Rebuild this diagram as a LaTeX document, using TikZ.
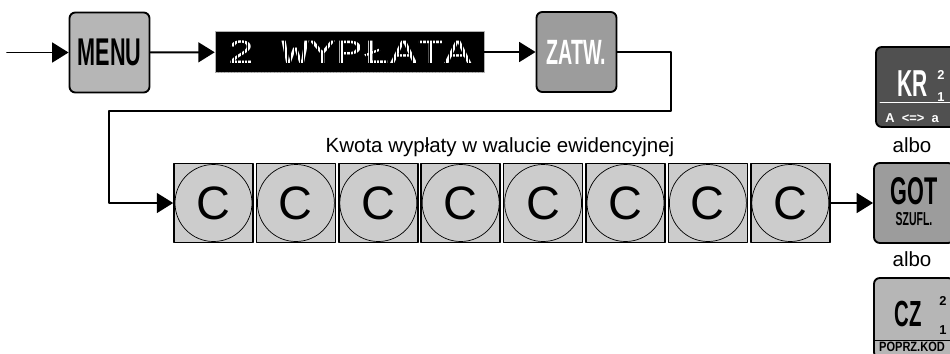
\documentclass[tikz,border=0pt]{standalone}
\usepackage{fontspec}
\setmainfont{Liberation Sans}
\newfontfamily\keyfont[FakeStretch=0.56]{Liberation Sans}
\newfontfamily\keyfontw[FakeStretch=0.82]{Liberation Sans}
\newfontfamily\lcdfont[FakeStretch=1.33]{Liberation Mono}
\usetikzlibrary{arrows.meta}
\definecolor{keylight}{HTML}{B6B6B6}
\definecolor{keymid}{HTML}{9C9C9C}
\definecolor{keydark}{HTML}{505050}
\definecolor{cellgray}{HTML}{CCCCCC}

\begin{document}
\begin{tikzpicture}[x=0.03cm, y=-0.03cm, >={Triangle[length=14pt,width=17pt]},
	line width=1.6pt, line cap=round, line join=round,
	key/.style={draw, rounded corners=5pt, minimum size=2.4cm, inner sep=0pt},
	keylabel/.style={font=\keyfont\bfseries, inner sep=0pt},
	cell/.style={draw, fill=cellgray, line width=1.4pt, minimum size=2.37cm, inner sep=0pt, font=\fontsize{40}{40}\selectfont},
	lcd/.style={fill=black, draw=gray!60, line width=0.5pt, minimum width=8.07cm, minimum height=1.23cm,
		text=white, font=\lcdfont\fontsize{29}{29}\selectfont},
	note/.style={font=\fontsize{17.5}{20}\selectfont, inner sep=0pt, anchor=base}]
	
	\useasboundingbox (0,0) rectangle (950,353);
	
	% Górny rząd
	\coordinate (start) at (7,52.5);
	\node[key, fill=keylight, keylabel, font=\keyfont\bfseries\fontsize{33}{33}\selectfont] (menu) at (109.5,52.5) {MENU};
	\node[lcd] (disp) at (349.5,52) {2 WYPŁATA};
	\node[key, fill=keymid, keylabel, text=white, font=\keyfont\bfseries\fontsize{30}{30}\selectfont] (zatw) at (576.5,52) {ZATW.};
	
	% Siatka punktów wyświetlacza
	\begin{scope}
		\clip (215,32) rectangle (484,72);
		\draw[black, line width=0.3pt, step=3.3] (215,32) grid (484,72);
	\end{scope}
	
	% Strzałki górnego rzędu
	\draw[->] (start) -- (menu);
	\draw[->] (menu) -- (disp);
	\draw[->] (disp) -- (zatw);
	
	% Kwota
	\foreach \i in {1,...,8} {
		\node[cell] (c\i) at ({213.5+82.4*(\i-1)},203) {C};
		\draw[line width=0.6pt] (c\i.center) circle (38.5);
	}
	\node[note] (kwota) at (500,152) {Kwota wypłaty w walucie ewidencyjnej};
	
	% Przejście do drugiego rzędu
	\coordinate (turnR) at (671,52);
	\coordinate (turnL) at (109,111);
	\draw[->] (zatw.east) -- (turnR) |- (turnL) |- (c1.west);
	
	% Klawisze zakończenia
	\node[key, fill=keydark] (kr) at (916,87) {};
	\node[keylabel, text=white, font=\keyfont\bfseries\fontsize{32}{32}\selectfont] (krtxt) at (912.5,83.5) {KR};
	\node[keylabel, text=white, font=\bfseries\fontsize{11}{11}\selectfont] (krup) at (941,75) {2};
	\node[keylabel, text=white, font=\bfseries\fontsize{11}{11}\selectfont] (krdown) at (941,97) {1};
	\draw[white, line width=0.6pt] (880,102) -- (956,102);
	\node[keylabel, text=white, font=\bfseries\fontsize{11}{11}\selectfont] (krcase) at (912,118.5) {A \ <=> \ a};
	
	\node[note] (albo1) at (912,152) {albo};
	
	\node[key, fill=keymid, keylabel] (got) at (914,203) {};
	\node[keylabel, font=\keyfont\bfseries\fontsize{33}{33}\selectfont] (gottxt) at (914,191) {GOT};
	\node[keylabel, font=\keyfont\bfseries\fontsize{16}{16}\selectfont] (szufl) at (914,219) {SZUFL.};
	\draw[->] (c8) -- (got);
	
	\node[note] (albo2) at (912,266) {albo};
	
	\node[key, fill=keylight] (cz) at (914,318) {};
	\node[keylabel, font=\keyfont\bfseries\fontsize{31}{31}\selectfont] (cztxt) at (908.5,314) {CZ};
	\node[keylabel, font=\bfseries\fontsize{11}{11}\selectfont] (czup) at (943,300.5) {2};
	\node[keylabel, font=\bfseries\fontsize{11}{11}\selectfont] (czdown) at (943,330) {1};
	\draw[line width=0.6pt] (875,340) -- (956,340);
	\node[keylabel, font=\keyfontw\bfseries\fontsize{11.5}{11.5}\selectfont] (poprz) at (912,346.5) {POPRZ.KOD};
	
\end{tikzpicture}
\end{document}
